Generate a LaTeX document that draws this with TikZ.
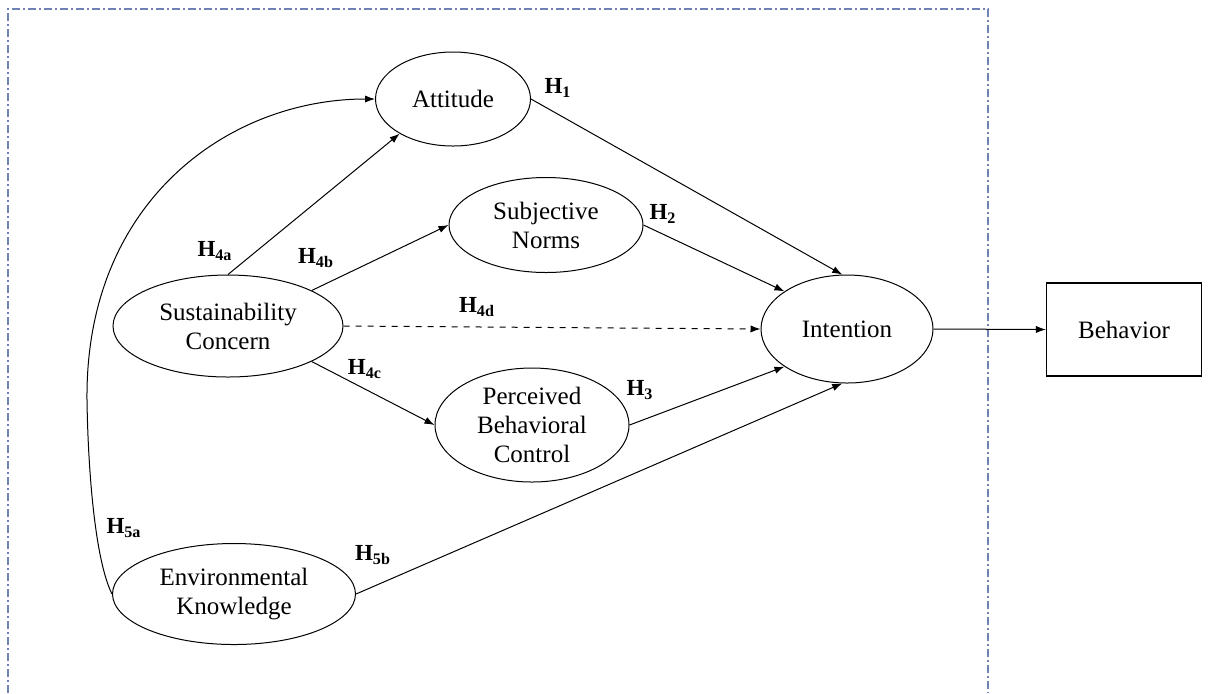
\documentclass[tikz,border=0pt]{standalone}
\usepackage{fontspec}
\setmainfont{Liberation Serif}
\usetikzlibrary{arrows.meta,shapes.geometric}
\definecolor{frameblue}{RGB}{110,130,180}
\begin{document}
\begin{tikzpicture}[x=0.5pt,y=-0.5pt,
  every node/.style={font=\fontsize{12.5}{14.5}\selectfont},
  oval/.style={draw, ellipse, inner sep=0pt, align=center, line width=0.5pt},
  boxnode/.style={draw, rectangle, inner sep=0pt, align=center, line width=0.6pt},
  conn/.style={line width=0.5pt, -{Latex[length=5pt,width=3.6pt]}},
  hyp/.style={font=\fontsize{11.5}{13}\selectfont\bfseries, inner sep=0pt},
  framestyle/.style={draw=frameblue, line width=0.6pt, dash pattern=on 4pt off 1.6pt on 0.8pt off 1.6pt}]
\useasboundingbox (0,0) rectangle (1208,693);
\draw[framestyle] (8,693) -- (8,9) -- (988,9) -- (988,693);

\node[oval, minimum width=77.5pt, minimum height=47pt] (att) at (453,99) {Attitude};
\node[oval, minimum width=97pt, minimum height=47.5pt] (sn) at (546,225) {Subjective\\Norms};
\node[oval, minimum width=115pt, minimum height=51pt] (sc) at (228,326) {Sustainability\\Concern};
\node[oval, minimum width=97pt, minimum height=57pt] (pbc) at (532,425) {Perceived\\Behavioral\\Control};
\node[oval, minimum width=86pt, minimum height=54pt] (int) at (847,329) {Intention};
\node[oval, minimum width=121.5pt, minimum height=50.5pt] (ek) at (234,594) {Environmental\\Knowledge};
\node[boxnode, minimum width=77.5pt, minimum height=46.5pt] (beh) at (1124,329.5) {Behavior};

\draw[conn] (att.east) -- (int.95);
\draw[conn] (sn.east) -- (int.149);
\draw[conn] (pbc.east) -- (int.211);
\draw[conn] (ek.east) -- (int.265);
\draw[conn] (sc.north) -- (att.213);
\draw[conn] (sc.23) -- (sn.west);
\draw[conn] (sc.-23) -- (pbc.west);
\draw[conn, dashed] (sc.east) -- (int.west);
\draw[conn] (int.east) -- (beh.west);
\draw[conn] (ek.west) .. controls (95,560) and (88,470) .. (87,400)
  .. controls (85,200) and (230,99) .. (att.west);

\node[hyp] (h1) at (558,88) {H\textsubscript{1}};
\node[hyp] (h2) at (663,214) {H\textsubscript{2}};
\node[hyp] (h3) at (640,390) {H\textsubscript{3}};
\node[hyp] (h4a) at (215,251) {H\textsubscript{4a}};
\node[hyp] (h4b) at (316,258) {H\textsubscript{4b}};
\node[hyp] (h4c) at (365,369) {H\textsubscript{4c}};
\node[hyp] (h4d) at (477,307) {H\textsubscript{4d}};
\node[hyp] (h5a) at (124,528) {H\textsubscript{5a}};
\node[hyp] (h5b) at (373,555) {H\textsubscript{5b}};
\end{tikzpicture}
\end{document}
